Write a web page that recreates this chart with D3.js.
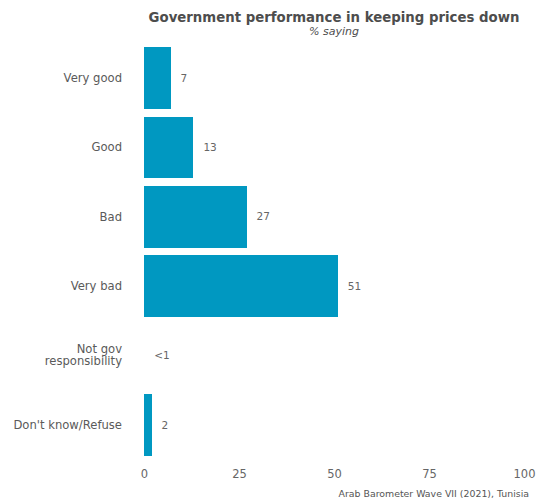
<!DOCTYPE html>
<html><head><meta charset="utf-8">
<script src="https://cdn.jsdelivr.net/npm/d3@7"></script>
<style>body{margin:0;background:#fff}svg{display:block}text{font-family:"DejaVu Sans",sans-serif}</style>
</head><body><svg id="c" width="547" height="504"></svg>
<script>
const categories = ["Very good","Good","Bad","Very bad","Not gov responsibility","Don't know/Refuse"];
const values = [7, 13, 27, 51, 0.04, 2];
const valueLabels = ["7","13","27","51","<1","2"];
const xTicks = [0, 25, 50, 75, 100];
const title = "Government performance in keeping prices down";
const subtitle = "% saying";
const caption = "Arab Barometer Wave VII (2021), Tunisia";

const svg = d3.select("#c");
const x = d3.scaleLinear().domain([0,100]).range([144,524]);
const y = d3.scaleBand().domain(categories).range([43,460]).paddingInner(0.11).paddingOuter(0.06);

svg.append("text").attr("x",334).attr("y",21.5).attr("text-anchor","middle")
  .attr("font-size",13.3).attr("font-weight","bold").attr("fill","#4d4d4d").text(title);
svg.append("text").attr("x",334).attr("y",35).attr("text-anchor","middle")
  .attr("font-size",11).attr("font-style","italic").attr("fill","#4d4d4d").text(subtitle);

svg.selectAll("rect.bar").data(values).join("rect").attr("class","bar")
  .attr("x",x(0)).attr("y",(d,i)=>y(categories[i]))
  .attr("width",d=>x(d)-x(0)).attr("height",y.bandwidth()).attr("fill","#0098c1")
  .attr("shape-rendering","crispEdges");

svg.selectAll("text.val").data(values).join("text").attr("class","val")
  .attr("x",d=>x(d)+10).attr("y",(d,i)=>y(categories[i])+y.bandwidth()/2)
  .attr("dy","0.35em").attr("font-size",10.5).attr("fill","#666").text((d,i)=>valueLabels[i]);

const yl = svg.selectAll("text.cat").data(categories).join("text").attr("class","cat")
  .attr("x",122).attr("y",d=>y(d)+y.bandwidth()/2).attr("text-anchor","end")
  .attr("font-size",11.6).attr("fill","#5a5a5a");
yl.each(function(d){
  const t = d3.select(this);
  if (d === "Not gov responsibility") {
    t.append("tspan").attr("x",122).attr("dy","-0.25em").text("Not gov");
    t.append("tspan").attr("x",122).attr("dy","1.1em").text("responsibility");
  } else {
    t.attr("dy","0.35em").text(d);
  }
});

const ax = svg.append("g").attr("transform","translate(0,470)")
  .call(d3.axisBottom(x).tickValues(xTicks).tickSize(0).tickPadding(0));
ax.select(".domain").remove();
ax.selectAll("text").attr("font-size",11.5).attr("fill","#666").attr("font-family","DejaVu Sans, sans-serif");

svg.append("text").attr("x",529).attr("y",497).attr("text-anchor","end")
  .attr("font-size",9.4).attr("fill","#555").text(caption);
</script></body></html>
